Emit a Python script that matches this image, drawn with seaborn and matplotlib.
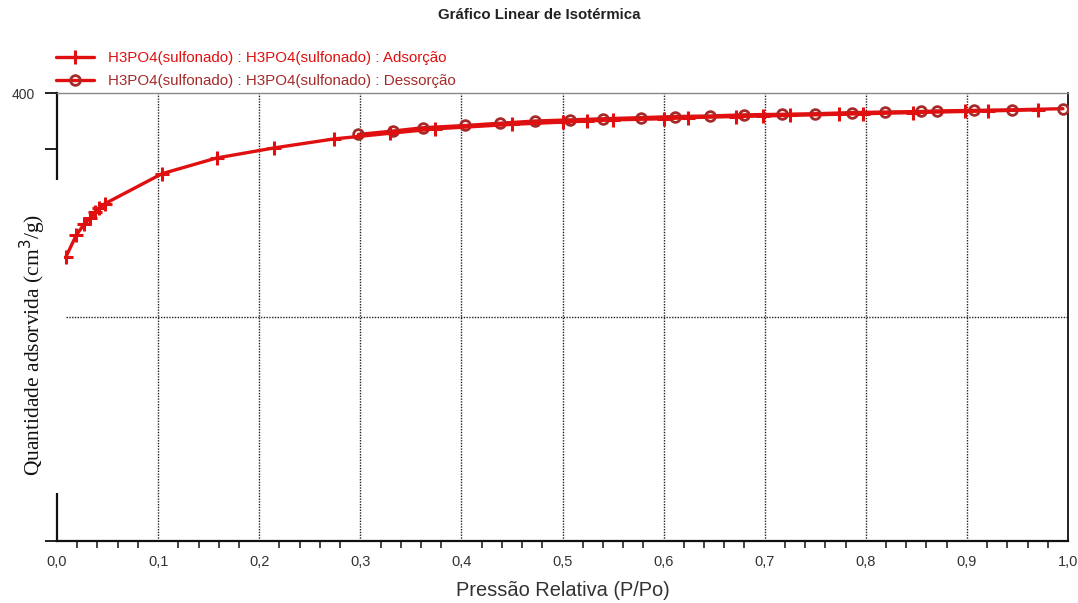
import numpy as np
import pandas as pd
import matplotlib
matplotlib.use("Agg")
import matplotlib.pyplot as plt
import seaborn as sns
from matplotlib.patches import Rectangle
from matplotlib.ticker import MultipleLocator, FixedLocator

# ---------------- data ----------------
ads_p = [0.009, 0.019, 0.027, 0.033, 0.038, 0.042, 0.047, 0.104, 0.158, 0.215,
         0.274, 0.329, 0.374, 0.450, 0.500, 0.524, 0.550, 0.600, 0.624, 0.672,
         0.698, 0.725, 0.773, 0.797, 0.847, 0.898, 0.921, 0.970]
ads_q = [254, 273, 283, 288, 294, 297, 301, 328, 342, 351,
         359, 364, 368, 372, 374, 375, 376, 377, 378, 379,
         379.5, 380, 381, 381.5, 382.5, 383.5, 384, 385]

des_p = [0.298, 0.332, 0.362, 0.404, 0.438, 0.473, 0.507, 0.540, 0.578, 0.611,
         0.646, 0.680, 0.717, 0.750, 0.786, 0.819, 0.855, 0.870, 0.907, 0.945, 0.995]
des_q = [363, 366, 369, 371, 373, 375, 376, 377, 378, 379,
         379.5, 380.5, 381, 381.5, 382.5, 383, 383.5, 384, 384.5, 385, 386]

label_ads = "H3PO4(sulfonado) : H3PO4(sulfonado) : Adsorção"
label_des = "H3PO4(sulfonado) : H3PO4(sulfonado) : Dessorção"
title = "Gráfico Linear de Isotérmica"
xlabel = "Pressão Relativa (P/Po)"
ylabel = "Quantidade adsorvida (cm$^3$/g)"
x_ticks = [0.0, 0.1, 0.2, 0.3, 0.4, 0.5, 0.6, 0.7, 0.8, 0.9, 1.0]
x_ticklabels = ["0,0", "0,1", "0,2", "0,3", "0,4", "0,5", "0,6", "0,7", "0,8", "0,9", "1,0"]
y_ticks = [0, 50, 100, 150, 200, 250, 300, 350, 400]
y_ticklabels = ["", "", "", "", "", "", "", "", "400"]

df_ads = pd.DataFrame({"p": ads_p, "q": ads_q})
df_des = pd.DataFrame({"p": des_p, "q": des_q})

# ---------------- style ----------------
sns.set_theme(style="white")
plt.rcParams["font.family"] = ["Liberation Sans", "DejaVu Sans"]

ads_color = "#e01010"
des_color = "#a52a2a"

fig = plt.figure(figsize=(10.78, 6.03), dpi=100)
ax = fig.add_axes([57 / 1078, 1 - 541 / 603, (1068 - 57) / 1078, (541 - 93) / 603])

sns.lineplot(data=df_ads, x="p", y="q", ax=ax, color=ads_color, linewidth=2.4,
             marker="+", markersize=10, markeredgewidth=2.2, markeredgecolor=ads_color,
             label=label_ads, zorder=4, sort=False)
sns.lineplot(data=df_des, x="p", y="q", ax=ax, color=ads_color, linewidth=2.4,
             marker="o", markersize=7, markerfacecolor="none", markeredgewidth=2,
             markeredgecolor=des_color, label=label_des, zorder=3, sort=False)

ax.set_xlim(0, 1.0)
ax.set_ylim(0, 400)

# grid lines
for gx in x_ticks[1:-1]:
    ax.axvline(gx, color="#222222", linestyle=(0, (1, 1)), linewidth=1.0, zorder=1)
ax.axhline(200, color="#222222", linestyle=(0, (1, 1)), linewidth=1.0, zorder=1, xmin=0.009)

# spines
for s in ["left", "bottom", "right"]:
    ax.spines[s].set_visible(True)
    ax.spines[s].set_color("#111111")
    ax.spines[s].set_linewidth(1.6)
ax.spines["right"].set_linewidth(1.3)
ax.spines["top"].set_color("#888888")
ax.spines["top"].set_linewidth(1.0)

ax.xaxis.set_major_locator(FixedLocator(x_ticks))
ax.set_xticklabels(x_ticklabels)
ax.xaxis.set_minor_locator(MultipleLocator(0.02))
ax.yaxis.set_major_locator(FixedLocator(y_ticks))
ax.set_yticklabels(y_ticklabels)

ax.tick_params(axis="x", which="major", direction="out", length=7, width=1.3,
               color="#111111", labelsize=10.5, pad=3, labelcolor="#333333")
ax.tick_params(axis="x", which="minor", direction="out", length=5, width=1.1,
               color="#111111", bottom=True)
ax.tick_params(axis="y", which="major", direction="out", length=9, width=1.3,
               color="#111111", labelsize=10, pad=7, labelcolor="#333333", left=True)

ax.set_xlabel(xlabel, fontsize=14.4, color="#333333")
ax.xaxis.set_label_coords(0.5, -0.09)
ax.set_ylabel("")

# white box behind y label (covers part of left spine)
fig.patches.append(Rectangle((0, 1 - 493 / 603), 64 / 1078, (493 - 180) / 603,
                             transform=fig.transFigure, facecolor="white",
                             edgecolor="none", zorder=10))
fig.text(33 / 1078, 1 - 345 / 603, ylabel, rotation=90, ha="center", va="center",
         fontsize=15.5, family=["Liberation Serif", "DejaVu Serif"], color="#111111",
         zorder=11)

fig.suptitle(title, x=0.5, y=1 - 15 / 603, fontsize=10.8, fontweight="bold",
             color="#222222", va="center")

# legend
ax.get_legend().remove()
handles, labels = ax.get_legend_handles_labels()
leg = fig.legend(handles, labels, loc="upper left",
                 bbox_to_anchor=(50 / 1078, 1 - 45 / 603), frameon=False,
                 fontsize=10.9, handlelength=2.5, handletextpad=0.95,
                 labelspacing=0.6, borderaxespad=0)
leg.get_texts()[0].set_color(ads_color)
leg.get_texts()[1].set_color(des_color)

fig.savefig("out.png", dpi=100)
